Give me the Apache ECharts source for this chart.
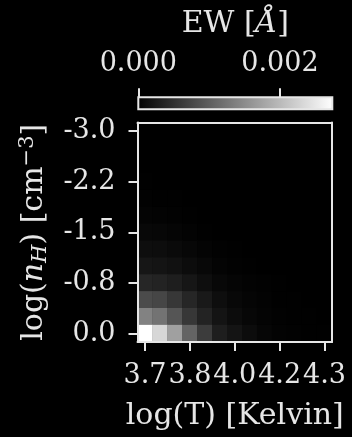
<!DOCTYPE html>
<html>
<head>
<meta charset="utf-8">
<script src="https://cdn.jsdelivr.net/npm/echarts@6/dist/echarts.min.js"></script>
<style>
  html, body { margin: 0; padding: 0; background: #000; }
  #chart { width: 352px; height: 437px; }
</style>
</head>
<body>
<div id="chart"></div>
<script>
// grid of the model: temperature (columns) and hydrogen density (rows, top to bottom)
const logT = [3.70, 3.75, 3.80, 3.85, 3.90, 3.95, 4.00, 4.05, 4.10, 4.15, 4.20, 4.25, 4.30]
const logNH = [-3.00, -2.75, -2.50, -2.25, -2.00, -1.75, -1.50, -1.25, -1.00, -0.75, -0.50, -0.25, 0.00]
const xTickLabels = ['3.7', '3.8', '4.0', '4.2', '4.3']
const yTickLabels = ['-3.0', '-2.2', '-1.5', '-0.8', '0.0']
const cbTicks = [0.000, 0.002]
const ewMax = 0.00274

// equivalent width [A], one row per logNH value
const ew = [
  [0, 0, 0, 0, 0, 0, 0, 0, 0, 0, 0, 0, 0],
  [0, 0, 0, 0, 0, 0, 0, 0, 0, 0, 0, 0, 0],
  [0, 0, 0, 0, 0, 0, 0, 0, 0, 0, 0, 0, 0],
  [0.00001, 0, 0, 0, 0, 0, 0, 0, 0, 0, 0, 0, 0],
  [0.00002, 0.00001, 0.00001, 0, 0, 0, 0, 0, 0, 0, 0, 0, 0],
  [0.00004, 0.00003, 0.00002, 0.00001, 0, 0, 0, 0, 0, 0, 0, 0, 0],
  [0.00009, 0.00008, 0.00005, 0.00003, 0.00001, 0, 0, 0, 0, 0, 0, 0, 0],
  [0.00015, 0.00014, 0.00011, 0.00008, 0.00004, 0.00002, 0.00001, 0, 0, 0, 0, 0, 0],
  [0.00024, 0.00021, 0.00018, 0.00013, 0.00009, 0.00004, 0.00002, 0.00001, 0, 0, 0, 0, 0],
  [0.00041, 0.00038, 0.00032, 0.00024, 0.00015, 0.00009, 0.00005, 0.00003, 0.00002, 0.00001, 0, 0, 0],
  [0.00081, 0.00075, 0.00059, 0.00041, 0.00027, 0.00015, 0.00009, 0.00005, 0.00003, 0.00001, 0.00001, 0, 0],
  [0.00140, 0.00124, 0.00091, 0.00059, 0.00038, 0.00021, 0.00013, 0.00008, 0.00004, 0.00002, 0.00001, 0.00001, 0],
  [0.00274, 0.00231, 0.00172, 0.00107, 0.00064, 0.00032, 0.00021, 0.00013, 0.00006, 0.00003, 0.00002, 0.00001, 0.00001]
]

const fg = '#e6e6e6'
const font = 'DejaVu Serif'
const fs = 27   // tick labels
const ns = 30   // axis names

const cells = []
ew.forEach((row, j) => row.forEach((v, i) => cells.push([i, j, v])))

const chart = echarts.init(document.getElementById('chart'), null, { renderer: 'canvas' })

const tickStyle = { show: true, length: 9, lineStyle: { color: fg, width: 2 } }
const lineStyle = { show: true, onZero: false, lineStyle: { color: fg, width: 2 } }
const labelStyle = { color: fg, fontFamily: font, fontSize: fs }

chart.setOption({
  backgroundColor: '#000',
  animation: false,
  grid: [
    { left: 137.5, top: 122.5, width: 194.5, height: 219.5 },
    { left: 138.3, top: 97.3, width: 194, height: 12 }
  ],
  xAxis: [
    {
      type: 'category', gridIndex: 0, data: logT, z: 10,
      axisLine: lineStyle,
      axisTick: { ...tickStyle, alignWithLabel: true, interval: 2 },
      axisLabel: { ...labelStyle, interval: 2, margin: 20, formatter: (v, i) => xTickLabels[i / 3] },
      name: 'log(T) [Kelvin]', nameLocation: 'middle', nameGap: 59,
      nameTextStyle: { color: fg, fontFamily: font, fontSize: ns }
    },
    {
      type: 'category', gridIndex: 0, data: logT, position: 'top', z: 10,
      axisLine: lineStyle, axisTick: { show: false }, axisLabel: { show: false }
    },
    {
      type: 'value', gridIndex: 1, min: 0, max: ewMax, interval: cbTicks[1], position: 'top', z: 10,
      axisLine: { show: false, onZero: false },
      axisTick: tickStyle,
      splitLine: { show: false },
      axisLabel: { ...labelStyle, margin: 20, showMaxLabel: false, formatter: v => v.toFixed(3) },
      name: '{a|EW [}{i|Å}{a|]}', nameLocation: 'middle', nameGap: 58,
      nameTextStyle: {
        rich: {
          a: { color: fg, fontFamily: font, fontSize: ns },
          i: { color: fg, fontFamily: font, fontSize: ns, fontStyle: 'italic' }
        }
      }
    }
  ],
  yAxis: [
    {
      type: 'category', gridIndex: 0, data: logNH, inverse: true, z: 10,
      axisLine: lineStyle,
      axisTick: { ...tickStyle, alignWithLabel: true, interval: 2 },
      axisLabel: { ...labelStyle, interval: 2, margin: 22, formatter: (v, i) => yTickLabels[i / 3] },
      name: '{a|log(}{i|n}{sub|H}{a|) [cm}{sup|−3}{a|]}', nameLocation: 'middle', nameGap: 86, nameRotate: 90,
      nameTextStyle: {
        rich: {
          a: { color: fg, fontFamily: font, fontSize: ns, lineHeight: 34 },
          i: { color: fg, fontFamily: font, fontSize: ns, fontStyle: 'italic', lineHeight: 34 },
          sub: { color: fg, fontFamily: font, fontSize: 21, fontStyle: 'italic', lineHeight: 34, verticalAlign: 'bottom', padding: [9, 0, 0, 0] },
          sup: { color: fg, fontFamily: font, fontSize: 21, lineHeight: 34, verticalAlign: 'top', padding: [0, 0, 11, 0] }
        }
      }
    },
    {
      type: 'category', gridIndex: 0, data: logNH, inverse: true, position: 'right', z: 10,
      axisLine: lineStyle, axisTick: { show: false }, axisLabel: { show: false }
    },
    {
      type: 'value', gridIndex: 1, min: 0, max: 1, show: false
    }
  ],
  visualMap: {
    show: false, type: 'continuous', seriesIndex: 0, dimension: 2,
    min: 0, max: ewMax, inRange: { color: ['#000000', '#ffffff'] }
  },
  series: [
    {
      type: 'heatmap', xAxisIndex: 0, yAxisIndex: 0, data: cells,
      itemStyle: { borderWidth: 0 }, emphasis: { disabled: true }
    },
    {
      // colorbar: one gradient bar spanning the EW range
      type: 'custom', xAxisIndex: 2, yAxisIndex: 2, data: [[0, ewMax]], z: 5,
      renderItem: (params, api) => {
        const p0 = api.coord([api.value(0), 1])
        const p1 = api.coord([api.value(1), 0])
        return {
          type: 'rect',
          shape: { x: p0[0], y: p0[1], width: p1[0] - p0[0], height: p1[1] - p0[1] },
          style: {
            fill: new echarts.graphic.LinearGradient(0, 0, 1, 0, [
              { offset: 0, color: '#000000' }, { offset: 1, color: '#ffffff' }
            ]),
            stroke: fg, lineWidth: 2
          }
        }
      }
    }
  ]
})
</script>
</body>
</html>
